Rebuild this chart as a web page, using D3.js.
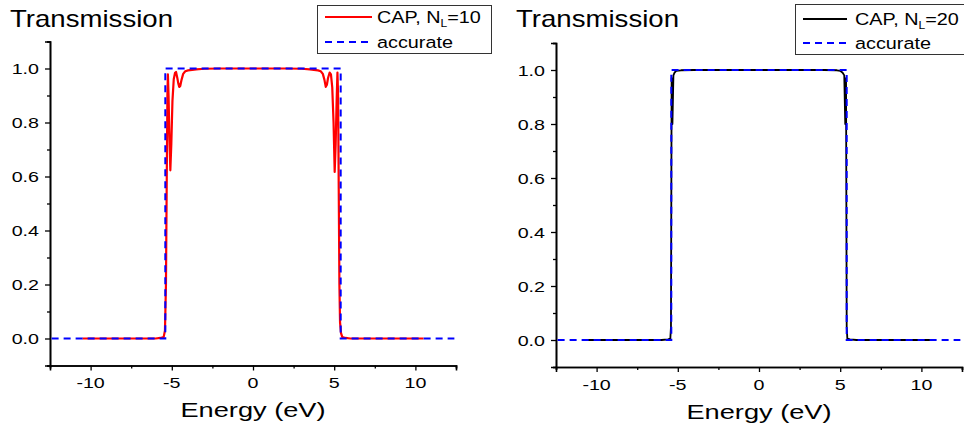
<!DOCTYPE html>
<html><head><meta charset="utf-8">
<script src="https://cdn.jsdelivr.net/npm/d3@7"></script>
<style>body{margin:0;background:#fff}svg{display:block}text{font-family:"Liberation Sans",Arial,sans-serif;fill:#000}</style>
</head><body><svg id="c" width="964" height="430"></svg>
<script>
// ---- data ----
const xMajorTicks = [-10, -5, 0, 5, 10];
const xMinorTicks = [-12.5, -7.5, -2.5, 2.5, 7.5, 12.5];
const yMajorTicks = [0.0, 0.2, 0.4, 0.6, 0.8, 1.0];
const yMinorTicks = [-0.1, 0.1, 0.3, 0.5, 0.7, 0.9, 1.1];

const accurateE = [-12.4, -5.4, -5.4, 5.4, 5.4, 12.4];
const accurateT = [0, 0, 1, 1, 0, 0];

const capN10E = [-10.5, -8, -6, -5.7, -5.5, -5.42, -5.36, -5.31, -5.27, -5.24, -5.2, -5.15, -5.09, -5.03, -4.96, -4.88, -4.8, -4.74, -4.66, -4.6, -4.54, -4.48, -4.4, -4.3, -4.17, -4.0, -3.5, -3.0, -2.0, 0,
  2.0, 3.0, 3.5, 4.0, 4.17, 4.3, 4.4, 4.48, 4.55, 4.62, 4.72, 4.8, 4.88, 4.96, 5.03, 5.09, 5.15, 5.2, 5.24, 5.28, 5.32, 5.36, 5.42, 5.5, 5.7, 6, 8, 10.5];
const capN10T = [0, 0, 0, 0.002, 0.005, 0.03, 0.2, 0.6, 0.9, 0.978, 0.9, 0.75, 0.623, 0.72, 0.88, 0.96, 0.984, 0.987, 0.965, 0.945, 0.932, 0.935, 0.958, 0.98, 0.99, 0.993, 0.997, 0.999, 1.0, 1.0,
  1.0, 0.999, 0.997, 0.993, 0.99, 0.98, 0.958, 0.932, 0.94, 0.965, 0.985, 0.978, 0.93, 0.8, 0.617, 0.72, 0.88, 0.985, 0.9, 0.55, 0.2, 0.06, 0.02, 0.005, 0.002, 0, 0, 0];

const capN20E = [-10.55, -8, -6, -5.6, -5.46, -5.42, -5.4, -5.38, -5.33, -5.27, -5.2, -5.1, -4.8, -4.0, 0,
  4.0, 4.8, 5.0, 5.15, 5.25, 5.31, 5.36, 5.38, 5.4, 5.44, 5.6, 6, 8, 10.55];
const capN20T = [0, 0, 0, 0.002, 0.005, 0.05, 0.5, 0.97, 0.8, 0.98, 0.99, 0.997, 0.999, 1.0, 1.0,
  1.0, 0.999, 0.997, 0.99, 0.98, 0.8, 0.97, 0.5, 0.05, 0.005, 0.002, 0, 0, 0];

const titleText = "Transmission";
const xLabelText = "Energy (eV)";
const legendAccurate = "accurate";

// ---- layout ----
const FONT_SX = 1.2;
const svg = d3.select("#c");

function stext(g, x, y, str, fs, sx, anchor) {
  return g.append("text")
    .attr("transform", `translate(${x},${y}) scale(${sx},1)`)
    .attr("text-anchor", anchor || "start")
    .style("font-size", fs + "px")
    .text(str);
}

function panel(cfg) {
  const g = svg.append("g");
  const x = d3.scaleLinear().domain([-12.5, 12.5]).range([cfg.x0, cfg.x1]);
  const y = d3.scaleLinear().domain([-0.1, 1.1]).range([cfg.yb, cfg.yt]);

  const xa = g.append("g").attr("transform", `translate(0,${cfg.yb})`);
  xa.call(d3.axisBottom(x).tickValues(xMajorTicks).tickSize(5).tickFormat(""));
  const xm = g.append("g").attr("transform", `translate(0,${cfg.yb})`);
  xm.call(d3.axisBottom(x).tickValues(xMinorTicks).tickSize(3).tickFormat(""));
  const ya = g.append("g").attr("transform", `translate(${cfg.x0},0)`);
  ya.call(d3.axisLeft(y).tickValues(yMajorTicks).tickSize(5).tickFormat(""));
  const ym = g.append("g").attr("transform", `translate(${cfg.x0},0)`);
  ym.call(d3.axisLeft(y).tickValues(yMinorTicks).tickSize(3).tickFormat(""));
  [xa, xm, ya, ym].forEach(a => {
    a.selectAll("path").attr("stroke", "#000").attr("stroke-width", 1.6);
    a.selectAll("line").attr("stroke", "#000").attr("stroke-width", 1.3);
  });

  yMajorTicks.forEach(v => stext(g, cfg.x0 - 11, y(v) + 5.5, v.toFixed(1), 15.5, 1.27, "end"));
  xMajorTicks.forEach(v => stext(g, x(v), cfg.yb + 22.5, String(v), 15.5, 1.27, "middle"));

  stext(g, (cfg.x0 + cfg.x1) / 2, cfg.yb + 51.5, xLabelText, 20, 1.36, "middle");
  stext(g, cfg.titleX, 27, titleText, 23, 1.2, "start");

  const line = d3.line().x(d => x(d[0])).y(d => y(d[1]));
  g.append("path").datum(d3.zip(cfg.capE, cfg.capT))
    .attr("d", line).attr("fill", "none").attr("stroke", cfg.color)
    .attr("stroke-width", cfg.lw).attr("stroke-linejoin", "round");
  g.append("path").datum(d3.zip(accurateE, accurateT))
    .attr("d", line).attr("fill", "none").attr("stroke", "#0000ff")
    .attr("stroke-width", 2).attr("stroke-dasharray", "7,5");

  const L = cfg.leg;
  const lg = svg.append("g");
  lg.append("rect").attr("x", L.x + 0.5).attr("y", L.y + 0.5).attr("width", L.w).attr("height", L.h)
    .attr("fill", "#fff").attr("stroke", "#333").attr("stroke-width", 1);
  lg.append("line").attr("x1", L.lx0).attr("x2", L.lx1).attr("y1", L.r1).attr("y2", L.r1)
    .attr("stroke", cfg.color).attr("stroke-width", cfg.lw);
  lg.append("line").attr("x1", L.lx0).attr("x2", L.lx1).attr("y1", L.r2).attr("y2", L.r2)
    .attr("stroke", "#0000ff").attr("stroke-width", 2).attr("stroke-dasharray", "7,5");
  const t1 = stext(lg, L.tx, L.r1 + 6, "", 16.5, FONT_SX, "start");
  t1.append("tspan").text("CAP, N");
  t1.append("tspan").attr("dy", 4).style("font-size", "10px").text("L");
  t1.append("tspan").attr("dy", -4).text("=" + cfg.nl);
  stext(lg, L.tx, L.r2 + 6, legendAccurate, 16.5, FONT_SX, "start");
}

panel({x0: 50, x1: 456, yb: 365.5, yt: 41.5, titleX: 10, capE: capN10E, capT: capN10T, color: "#ff0000", lw: 2.2, nl: "10",
  leg: {x: 317, y: 5, w: 174, h: 48, lx0: 325, lx1: 372, r1: 17, r2: 42, tx: 377}});
panel({x0: 556, x1: 962, yb: 367, yt: 43, titleX: 516, capE: capN20E, capT: capN20T, color: "#000000", lw: 1.8, nl: "20",
  leg: {x: 795, y: 4, w: 180, h: 50, lx0: 803, lx1: 847, r1: 19, r2: 43, tx: 855}});
</script></body></html>
